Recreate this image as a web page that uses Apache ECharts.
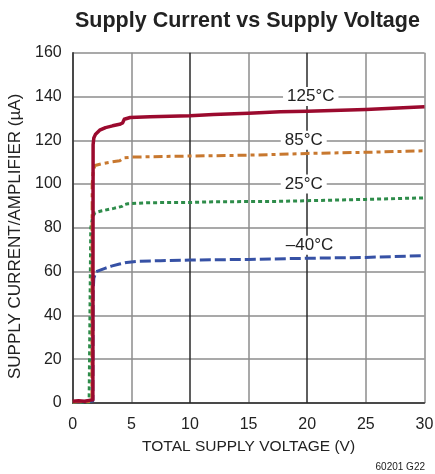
<!DOCTYPE html>
<html>
<head>
<meta charset="utf-8">
<script src="https://cdn.jsdelivr.net/npm/echarts@6/dist/echarts.min.js"></script>
<style>
  html, body { margin: 0; padding: 0; background: #fff; }
  #chart { width: 435px; height: 474px; }
</style>
</head>
<body>
<div id="chart"></div>
<script>
// Supply current per amplifier vs total supply voltage, four temperatures
const xTicks = [0, 5, 10, 15, 20, 25, 30];
const yTicks = [0, 20, 40, 60, 80, 100, 120, 140, 160];

const v125 = [0, 0.5, 1.0, 1.4, 1.72, 1.74, 1.8, 1.95, 2.3, 2.8, 3.4, 4.0, 4.25, 4.4, 4.9, 6.6, 10, 12, 15, 17.7, 20, 25, 30];
const i125 = [0.8, 1.0, 0.8, 1.2, 1.5, 118, 121, 122.8, 124.6, 125.8, 126.6, 127.3, 127.9, 129.6, 130.4, 130.8, 131.2, 131.8, 132.4, 133.0, 133.3, 134.1, 135.3];

const v85 = [0, 0.5, 1.0, 1.4, 1.64, 1.66, 1.75, 1.9, 2.5, 3.2, 4.0, 4.2, 4.4, 5, 6.6, 10, 15, 17.7, 20, 25, 30];
const i85 = [0.5, 0.6, 0.5, 0.7, 1, 100, 106, 108.5, 109.3, 110, 110.6, 111.4, 112, 112.3, 112.5, 112.8, 113.2, 113.6, 114.0, 114.5, 115.2];

const v25 = [0, 0.5, 1.0, 1.4, 1.52, 1.54, 1.7, 1.9, 2.5, 3.5, 4.2, 4.4, 4.7, 6.6, 10, 12, 15, 17.7, 20, 25, 30];
const i25 = [0.3, 0.5, 0.3, 0.5, 0.5, 80, 85, 86.9, 87.8, 88.9, 89.8, 90.6, 91.0, 91.5, 91.6, 91.9, 92.0, 92.1, 92.4, 93.0, 93.7];

const vM40 = [0, 0.5, 1.0, 1.5, 1.72, 1.74, 1.8, 2.0, 2.4, 2.75, 3.3, 4.0, 4.6, 5.5, 7.5, 10, 15, 20, 25, 30];
const iM40 = [0.5, 0.6, 0.5, 0.7, 1, 50, 57, 60, 60.8, 61.5, 62.5, 63.5, 64.2, 64.7, 65.0, 65.3, 65.6, 66.1, 66.5, 67.3];

const curveNames = ['125°C', '85°C', '25°C', '–40°C'];
// label anchors in axis units (volts, µA)
const labelAt = [[20.3, 140], [19.7, 120], [19.7, 100], [20.2, 72]];

const FONT = '"Liberation Sans", Arial, Helvetica, sans-serif';
const TEXT = '#222';

function pairs(xs, ys) { return xs.map((x, k) => [x, ys[k]]); }

function curve(idx, xs, ys, color, width, dash, z) {
  return {
    name: curveNames[idx],
    type: 'line',
    data: pairs(xs, ys),
    showSymbol: false,
    symbol: 'none',
    z: z,
    lineStyle: { color: color, width: width, type: dash, cap: 'butt', join: 'round' },
    markPoint: {
      symbol: 'rect',
      symbolSize: 1,
      itemStyle: { color: 'rgba(0,0,0,0)' },
      label: {
        show: true,
        formatter: curveNames[idx],
        color: TEXT,
        fontFamily: FONT,
        fontSize: 17,
        backgroundColor: '#fff',
        padding: [1, 4, 1, 4]
      },
      data: [{ coord: labelAt[idx] }]
    }
  };
}

const chart = echarts.init(document.getElementById('chart'), null, { renderer: 'canvas' });
const gridGray = '#8c8c8c';
const dark = '#2a2a2a';

chart.setOption({
  animation: false,
  backgroundColor: '#fff',
  title: [
    {
      text: 'Supply Current vs Supply Voltage',
      left: 70, top: 5,
      textStyle: { fontFamily: FONT, fontWeight: 'bold', fontSize: 21.5, color: TEXT }
    },
    {
      text: '60201 G22',
      right: 10, bottom: 2, padding: 0,
      textStyle: { fontFamily: FONT, fontWeight: 'normal', fontSize: 10, color: TEXT }
    }
  ],
  grid: { left: 72.7, right: 10.5, top: 52.7, bottom: 71, containLabel: false, outerBoundsMode: 'none' },
  xAxis: {
    type: 'value',
    min: xTicks[0], max: xTicks[xTicks.length - 1], interval: 5,
    name: 'TOTAL SUPPLY VOLTAGE (V)',
    nameLocation: 'middle', nameGap: 36,
    nameTextStyle: { fontFamily: FONT, fontSize: 15.5, color: TEXT },
    axisLine: { show: true, onZero: false, lineStyle: { color: dark, width: 1.5 } },
    axisTick: { show: false },
    axisLabel: { fontFamily: FONT, fontSize: 16, color: TEXT, margin: 14,
      formatter: v => xTicks.includes(v) ? String(v) : '' },
    splitLine: { show: true, lineStyle: { color: [gridGray, gridGray, dark, gridGray, dark, gridGray, gridGray], width: 1.5 } }
  },
  yAxis: {
    type: 'value',
    min: yTicks[0], max: yTicks[yTicks.length - 1], interval: 20,
    name: 'SUPPLY CURRENT/AMPLIFIER (µA)',
    nameLocation: 'middle', nameGap: 41.5, nameRotate: 90,
    nameTextStyle: { fontFamily: FONT, fontSize: 17, color: TEXT, padding: [0, 17, 0, 0] },
    axisLine: { show: true, onZero: false, lineStyle: { color: dark, width: 1.5 } },
    axisTick: { show: false },
    axisLabel: { fontFamily: FONT, fontSize: 16, color: TEXT, margin: 11,
      formatter: v => yTicks.includes(v) ? String(v) : '' },
    splitLine: { show: true, lineStyle: { color: gridGray, width: 1.5 } }
  },
  series: [
    curve(3, vM40, iM40, '#3651a5', 3, [11, 4], 2),
    curve(2, v25, i25, '#2e8c4a', 3, [4, 3], 3),
    curve(1, v85, i85, '#c8782f', 3, [9, 4, 4, 4], 4),
    curve(0, v125, i125, '#9b0a2e', 3.5, 'solid', 5)
  ]
});
</script>
</body>
</html>
